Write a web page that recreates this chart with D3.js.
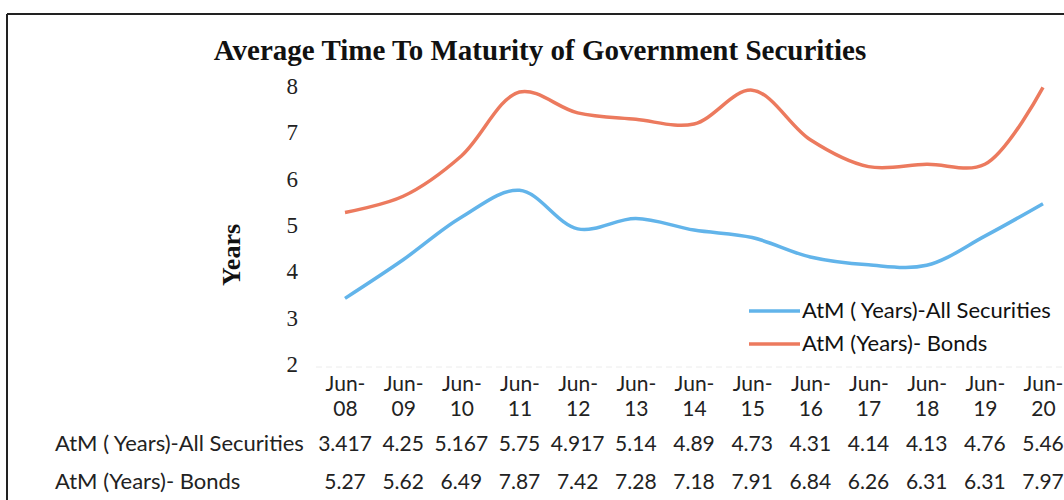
<!DOCTYPE html>
<html><head><meta charset="utf-8">
<script src="https://cdn.jsdelivr.net/npm/d3@7"></script>
<style>body{margin:0;background:#fff}</style>
</head><body>
<svg id="c" width="1064" height="500"></svg>
<script>
const categories = ["Jun-08","Jun-09","Jun-10","Jun-11","Jun-12","Jun-13","Jun-14","Jun-15","Jun-16","Jun-17","Jun-18","Jun-19","Jun-20"];
const allSecurities = [3.417,4.25,5.167,5.75,4.917,5.14,4.89,4.73,4.31,4.14,4.13,4.76,5.46];
const allSecLabels = ["3.417","4.25","5.167","5.75","4.917","5.14","4.89","4.73","4.31","4.14","4.13","4.76","5.46"];
const bonds = [5.27,5.62,6.49,7.87,7.42,7.28,7.18,7.91,6.84,6.26,6.31,6.31,7.97];
const bondLabels = ["5.27","5.62","6.49","7.87","7.42","7.28","7.18","7.91","6.84","6.26","6.31","6.31","7.97"];
const seriesNames = ["AtM ( Years)-All Securities","AtM (Years)- Bonds"];
const yTicks = [2,3,4,5,6,7,8];
const title = "Average Time To Maturity of Government Securities";

const svg = d3.select("#c");
const sans = "Lato, 'Open Sans', sans-serif";
const serif = "'Liberation Serif', serif";
const blue = "#62b4ea", orange = "#ec7a5e";
const fs = 21;

// frame
svg.append("line").attr("x1",7).attr("x2",1064).attr("y1",14).attr("y2",14).attr("stroke","#222").attr("stroke-width",2);
svg.append("line").attr("x1",7).attr("x2",7).attr("y1",14).attr("y2",500).attr("stroke","#222").attr("stroke-width",2);

const x = d3.scalePoint().domain(categories).range([345,1043]);
const y = d3.scaleLinear().domain([2,8]).range([364,86]);

svg.append("text").attr("x",540).attr("y",60).attr("text-anchor","middle")
  .attr("font-family",serif).attr("font-weight","bold").attr("font-size",29).attr("fill","#111").text(title);

svg.append("text").attr("transform","translate(240,255) rotate(-90)").attr("text-anchor","middle")
  .attr("font-family",serif).attr("font-weight","bold").attr("font-size",26).attr("fill","#111").text("Years");

// y axis
const yAxis = d3.axisLeft(y).tickValues(yTicks).tickSize(0).tickPadding(0).tickFormat(d3.format("d"));
const gy = svg.append("g").attr("transform","translate(298,0)").call(yAxis);
gy.select(".domain").remove();
gy.selectAll("text").attr("font-family",serif).attr("font-size",23).attr("fill","#222");

// baseline
svg.append("line").attr("x1",316).attr("x2",1064).attr("y1",367).attr("y2",367).attr("stroke","#ececec").attr("stroke-width",1).attr("stroke-dasharray","6,4");

// x axis labels (two lines)
const xAxis = d3.axisBottom(x).tickSize(0).tickPadding(0).tickFormat(()=>"");
const gx = svg.append("g").attr("transform","translate(0,367)").call(xAxis);
gx.select(".domain").remove();
gx.selectAll(".tick").each(function(d){
  const t = d3.select(this).append("text").attr("text-anchor","middle").attr("font-family",sans).attr("font-size",fs).attr("fill","#222");
  const parts = d.split("-");
  t.append("tspan").attr("x",0).attr("y",24).text(parts[0]+"-");
  t.append("tspan").attr("x",0).attr("y",49).text(parts[1]);
});

// lines
const line = d3.line().x((d,i)=>x(categories[i])).y(d=>y(d)).curve(d3.curveCatmullRom.alpha(0.5));
svg.append("path").datum(bonds).attr("d",line).attr("fill","none").attr("stroke",orange).attr("stroke-width",3.5);
svg.append("path").datum(allSecurities).attr("d",line).attr("fill","none").attr("stroke",blue).attr("stroke-width",3.5);

// legend
const leg = [[blue,seriesNames[0],311],[orange,seriesNames[1],344]];
leg.forEach(([c,n,yy])=>{
  svg.append("line").attr("x1",749).attr("x2",800).attr("y1",yy).attr("y2",yy).attr("stroke",c).attr("stroke-width",3.5);
  svg.append("text").attr("x",802).attr("y",yy+7).attr("font-family",sans).attr("font-size",22).attr("fill","#111").text(n);
});

// data table
const rows = [[seriesNames[0],allSecLabels,451],[seriesNames[1],bondLabels,489]];
rows.forEach(([n,vals,yy])=>{
  svg.append("text").attr("x",55).attr("y",yy).attr("font-family",sans).attr("font-size",22).attr("fill","#222").text(n);
  svg.append("g").selectAll("text").data(vals).join("text")
    .attr("x",(d,i)=>x(categories[i])).attr("y",yy).attr("text-anchor","middle")
    .attr("font-family",sans).attr("font-size",fs).attr("fill","#222").text(d=>d);
});
</script>
</body></html>
